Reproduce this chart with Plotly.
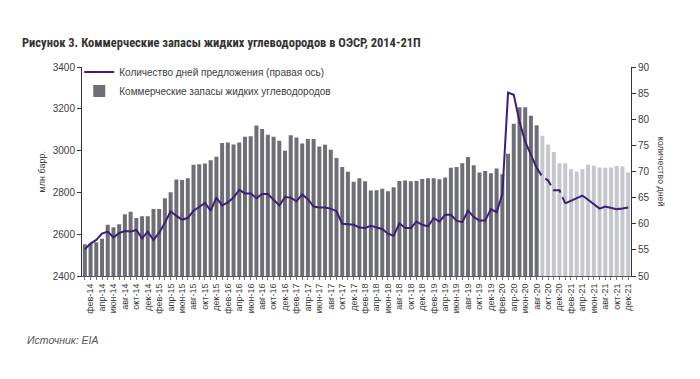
import plotly.graph_objects as go

month_abbr = ["янв", "фев", "мар", "апр", "май", "июн", "июл", "авг", "сен", "окт", "ноя", "дек"]
years = ["14", "15", "16", "17", "18", "19", "20", "21"]
months = [f"{m}-{y}" for y in years for m in month_abbr]

stocks = [
    2552, 2555, 2561, 2578, 2645, 2633, 2648, 2696, 2707, 2677, 2686, 2686,
    2721, 2720, 2772, 2801, 2862, 2859, 2868, 2932, 2935, 2938, 2954, 2970,
    3036, 3039, 3029, 3039, 3066, 3069, 3120, 3103, 3076, 3066, 3047, 2999,
    3074, 3063, 3034, 3055, 3055, 3020, 3028, 3004, 2964, 2921, 2899, 2851,
    2868, 2853, 2809, 2810, 2817, 2805, 2825, 2855, 2857, 2853, 2854, 2864,
    2868, 2868, 2863, 2871, 2918, 2922, 2940, 2969, 2930, 2895, 2902, 2892,
    2914, 2887, 2985, 3128, 3208, 3207, 3167, 3121, 3071, 3029, 2993, 2940,
    2940, 2911, 2900, 2911, 2932, 2927, 2919, 2918, 2919, 2926, 2924, 2895,
]

days = [
    55.1, 56.2, 56.9, 58.1, 58.5, 57.4, 58.2, 58.6, 58.5, 58.8, 57.2, 58.5,
    56.9, 58.3, 60.2, 62.4, 61.5, 60.8, 61.1, 62.5, 63.2, 64.0, 62.5, 65.0,
    63.5, 64.1, 65.0, 66.5, 65.8, 65.8, 64.9, 65.7, 65.7, 64.6, 63.5, 65.1,
    65.0, 64.3, 65.6, 64.7, 63.3, 63.1, 63.1, 62.9, 62.4, 60.0, 59.9, 59.8,
    59.3, 59.2, 59.6, 59.3, 59.0, 58.1, 57.7, 60.1, 59.2, 59.2, 60.4, 59.8,
    59.5, 61.1, 60.4, 61.7, 61.7, 60.6, 60.3, 62.5, 61.3, 60.6, 60.6, 62.8,
    62.2, 65.7, 85.1, 84.7, 79.5, 75.7, 73.3, 70.7, 69.0, 68.3, 66.4, 66.4,
    63.9, 64.4, 64.8, 65.4, 64.6, 63.8, 62.9, 63.3, 63.1, 62.8, 62.9, 63.1,
]

forecast_start = 80      # сен-20: first forecast bar
dash_from, dash_to = 79, 84  # dashed link between actual and forecast line

tick_text = [m if m[:3] in ("фев", "апр", "июн", "авг", "окт", "дек") else "" for m in months]

BAR_DARK = "#6e6e77"
BAR_LIGHT = "#c6c6ce"
LINE = "#3d1f78"
TXT = "#404040"

fig = go.Figure()

fig.add_trace(go.Scatter(
    x=months[:dash_from + 1], y=days[:dash_from + 1], yaxis="y2",
    mode="lines", line=dict(color=LINE, width=2),
    name="Количество дней предложения (правая ось)", legendgroup="d",
))
fig.add_trace(go.Bar(
    x=months[:forecast_start], y=stocks[:forecast_start],
    marker=dict(color=BAR_DARK, line=dict(width=0)),
    name="Коммерческие запасы жидких углеводородов",
))
fig.add_trace(go.Bar(
    x=months[forecast_start:], y=stocks[forecast_start:],
    marker=dict(color=BAR_LIGHT, line=dict(width=0)),
    showlegend=False,
))
fig.add_trace(go.Scatter(
    x=months[dash_from:dash_to + 1], y=days[dash_from:dash_to + 1], yaxis="y2",
    mode="lines", line=dict(color=LINE, width=2, dash="9px,5px"),
    showlegend=False, legendgroup="d",
))
fig.add_trace(go.Scatter(
    x=months[dash_to:], y=days[dash_to:], yaxis="y2",
    mode="lines", line=dict(color=LINE, width=2),
    showlegend=False, legendgroup="d",
))

# page body adds an 8px offset; margins compensate so the plot lands at 82..631 x 67..276
fig.update_layout(
    width=700, height=379,
    margin=dict(l=74, r=77, t=59, b=111),
    paper_bgcolor="white", plot_bgcolor="white",
    font=dict(family="Liberation Sans, Arial, sans-serif", size=10, color=TXT),
    bargap=0.3, barmode="overlay",
    showlegend=True,
    legend=dict(x=-0.005, y=1.045, xanchor="left", yanchor="top",
                bgcolor="rgba(0,0,0,0)", font=dict(size=10, color=TXT),
                traceorder="normal", itemwidth=30, tracegroupgap=0),
    title=dict(
        text="<b>Рисунок 3. Коммерческие запасы жидких углеводородов в ОЭСР, 2014-21П</b>",
        xref="container", yref="container", x=14 / 700, xanchor="left",
        y=1 - 35 / 379, yanchor="middle",
        font=dict(family="Liberation Sans Narrow, Arial Narrow, Roboto Condensed, Liberation Sans, sans-serif",
                  size=12.5, color="#333333"),
    ),
    xaxis=dict(
        type="category", categoryorder="array", categoryarray=months,
        tickmode="array", tickvals=months, ticktext=tick_text,
        tickangle=-90, tickfont=dict(size=9, color=TXT),
        showline=True, linecolor="#555555", linewidth=1,
        ticks="outside", ticklen=3, tickcolor="#777777",
        showgrid=False, range=[-0.5, len(months) - 0.5],
    ),
    yaxis=dict(
        range=[2400, 3400], dtick=200, showgrid=False, zeroline=False,
        showline=True, linecolor="#333333", linewidth=1,
        ticks="outside", ticklen=4, tickcolor="#333333",
        tickfont=dict(size=10, color=TXT),
    ),
    yaxis2=dict(
        range=[50, 90], dtick=5, overlaying="y", side="right",
        showgrid=False, zeroline=False,
        showline=True, linecolor="#333333", linewidth=1,
        ticks="outside", ticklen=4, tickcolor="#333333",
        tickfont=dict(size=10, color=TXT),
    ),
    annotations=[
        dict(text="млн барр.", textangle=-90, xref="paper", yref="paper",
             x=-0.073, y=0.5, xanchor="center", yanchor="middle",
             showarrow=False, font=dict(size=9, color=TXT)),
        dict(text="количество дней", textangle=90, xref="paper", yref="paper",
             x=1.056, y=0.5, xanchor="center", yanchor="middle",
             showarrow=False, font=dict(size=9, color=TXT)),
        dict(text="<i>Источник: EIA</i>", xref="paper", yref="paper",
             x=-0.104, y=-0.306, xanchor="left", yanchor="middle",
             showarrow=False, font=dict(size=10.5, color="#555555")),
    ],
)

fig.write_html("out.html")
